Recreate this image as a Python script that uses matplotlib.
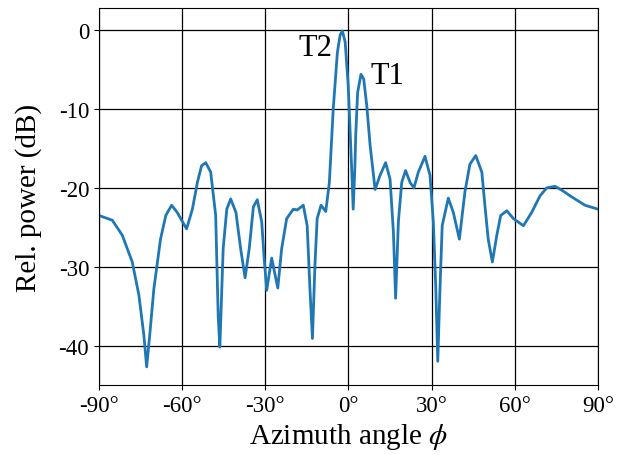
#! /usr/bin/env python3
"""
Relative power pattern over azimuth angle
"""
import matplotlib
matplotlib.use('Agg')
from matplotlib import pyplot as plt

# azimuth angle in degrees, relative power in dB
angle = [-90, -85.2, -81.6, -78.0, -75.6, -73.8, -72.8, -71.7, -70.2, -67.8,
         -65.9, -63.8, -61.8, -58.4, -56.3, -54.5, -53.0, -51.5, -49.7, -47.9,
         -47.0, -46.4, -45.2, -43.9, -42.5, -40.6, -38.9, -37.3, -35.8, -34.3,
         -32.9, -31.3, -30.4, -29.5, -27.7, -25.5, -24.1, -22.3, -19.9, -18.5,
         -16.3, -14.9, -13.9, -13.0, -12.1, -11.3, -9.9, -8.2, -6.9, -5.5,
         -4.0, -3.0, -2.2, -1.2, -0.1, 1.15, 1.7, 2.3, 2.6, 3.3,
         4.5, 5.5, 6.6, 7.8, 9.6, 11.4, 13.4, 15.0, 16.2, 17.0,
         18.0, 19.2, 20.6, 22.2, 23.6, 25.2, 27.6, 29.4, 30.6, 31.5,
         32.2, 33.0, 33.8, 36.0, 37.8, 40.0, 42.0, 43.8, 45.9, 48.1,
         49.2, 50.4, 51.9, 53.5, 54.9, 57.1, 59.5, 63.1, 66.1, 69.1,
         71.5, 74.5, 77.0, 79.9, 85.3, 90]
power = [-23.5, -24.1, -26.0, -29.4, -33.6, -38.7, -42.7, -38.7, -32.8, -26.5,
         -23.5, -22.2, -23.1, -25.2, -22.7, -19.3, -17.2, -16.8, -18.0, -23.5,
         -36.2, -40.2, -27.7, -22.7, -21.4, -23.1, -27.7, -31.4, -27.7, -22.4,
         -21.5, -24.3, -29.0, -33.0, -28.9, -32.7, -27.7, -23.9, -22.7, -22.8,
         -22.2, -24.8, -32.8, -39.1, -29.8, -23.9, -22.2, -23.0, -19.3, -10.0,
         -2.8, -0.6, -0.1, -1.5, -7.0, -17.6, -22.7, -17.5, -13.4, -7.9,
         -5.6, -6.2, -9.6, -14.6, -20.2, -18.4, -16.8, -18.9, -25.6, -34.0,
         -24.3, -19.3, -17.8, -19.3, -20.0, -18.0, -16.0, -18.4, -24.3, -32.8,
         -42.0, -32.8, -24.8, -21.3, -23.1, -26.5, -20.5, -17.0, -15.9, -18.0,
         -22.2, -26.5, -29.4, -26.0, -23.5, -22.9, -23.9, -24.8, -23.1, -21.0,
         -20.0, -19.8, -20.3, -21.0, -22.2, -22.7]

xticks = [-90, -60, -30, 0, 30, 60, 90]
yticks = [-40, -30, -20, -10, 0]

plt.rcParams['font.family'] = ['Liberation Serif', 'DejaVu Serif']
plt.rcParams['mathtext.fontset'] = 'stix'
plt.rcParams['axes.unicode_minus'] = False

fig = plt.figure(figsize=(6.32, 4.56), dpi=100)
ax = fig.add_axes([0.1566, 0.1535, 0.7896, 0.8265])
ax.plot(angle, power, color='#1f77b4', lw=2)
ax.set_xlim(-90, 90)
ax.set_ylim(-45, 2.8)
ax.set_xticks(xticks)
ax.set_xticklabels([f'{t}°' for t in xticks])
ax.set_yticks(yticks)
ax.tick_params(labelsize=16.5)
ax.grid(True, color='black', lw=0.9)
ax.set_xlabel(r'Azimuth angle $\phi$', fontsize=21, labelpad=4)
ax.set_ylabel('Rel. power (dB)', fontsize=21, labelpad=12)
ax.text(-12.1, -2.2, 'T2', fontsize=22, ha='center', va='center')
ax.text(13.9, -5.8, 'T1', fontsize=22, ha='center', va='center')
fig.savefig('out.png', dpi=100)
